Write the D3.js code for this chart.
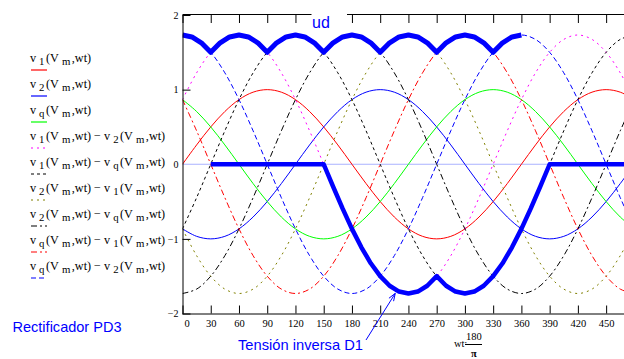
<!DOCTYPE html>
<html><head><meta charset="utf-8">
<script src="https://cdn.jsdelivr.net/npm/d3@7"></script>
<style>
html,body{margin:0;padding:0;background:#fff;}
svg{display:block;}
</style></head>
<body>
<svg id="chart" width="624" height="359"></svg>
<script>
// ---- data (angle in degrees, values in units of Vm) ----
const angles15 = [0,15,30,45,60,75,90,105,120,135,150,165,180,195,210,225,240,255,270,285,300,315,330,345,360,375,390,405,420,435,450,465,480];
const v1  = [0,.259,.5,.707,.866,.966,1,.966,.866,.707,.5,.259,0,-.259,-.5,-.707,-.866,-.966,-1,-.966,-.866,-.707,-.5,-.259,0,.259,.5,.707,.866,.966,1,.966,.866];
const v2  = [-.866,-.966,-1,-.966,-.866,-.707,-.5,-.259,0,.259,.5,.707,.866,.966,1,.966,.866,.707,.5,.259,0,-.259,-.5,-.707,-.866,-.966,-1,-.966,-.866,-.707,-.5,-.259,0];
const v3  = [.866,.707,.5,.259,0,-.259,-.5,-.707,-.866,-.966,-1,-.966,-.866,-.707,-.5,-.259,0,.259,.5,.707,.866,.966,1,.966,.866,.707,.5,.259,0,-.259,-.5,-.707,-.866];
const v12 = [.866,1.225,1.5,1.673,1.732,1.673,1.5,1.225,.866,.448,0,-.448,-.866,-1.225,-1.5,-1.673,-1.732,-1.673,-1.5,-1.225,-.866,-.448,0,.448,.866,1.225,1.5,1.673,1.732,1.673,1.5,1.225,.866];
const v13 = [-.866,-.448,0,.448,.866,1.225,1.5,1.673,1.732,1.673,1.5,1.225,.866,.448,0,-.448,-.866,-1.225,-1.5,-1.673,-1.732,-1.673,-1.5,-1.225,-.866,-.448,0,.448,.866,1.225,1.5,1.673,1.732];
const v21 = [-.866,-1.225,-1.5,-1.673,-1.732,-1.673,-1.5,-1.225,-.866,-.448,0,.448,.866,1.225,1.5,1.673,1.732,1.673,1.5,1.225,.866,.448,0,-.448,-.866,-1.225,-1.5,-1.673,-1.732,-1.673,-1.5,-1.225,-.866];
const v23 = [-1.732,-1.673,-1.5,-1.225,-.866,-.448,0,.448,.866,1.225,1.5,1.673,1.732,1.673,1.5,1.225,.866,.448,0,-.448,-.866,-1.225,-1.5,-1.673,-1.732,-1.673,-1.5,-1.225,-.866,-.448,0,.448,.866];
const v31 = [.866,.448,0,-.448,-.866,-1.225,-1.5,-1.673,-1.732,-1.673,-1.5,-1.225,-.866,-.448,0,.448,.866,1.225,1.5,1.673,1.732,1.673,1.5,1.225,.866,.448,0,-.448,-.866,-1.225,-1.5,-1.673,-1.732];
const v32 = [1.732,1.673,1.5,1.225,.866,.448,0,-.448,-.866,-1.225,-1.5,-1.673,-1.732,-1.673,-1.5,-1.225,-.866,-.448,0,.448,.866,1.225,1.5,1.673,1.732,1.673,1.5,1.225,.866,.448,0,-.448,-.866];

const anglesUd = [0,10,20,30,40,50,60,70,80,90,100,110,120,130,140,150,160,170,180,190,200,210,220,230,240,250,260,270,280,290,300,310,320,330,340,350,360];
const ud = [1.732,1.706,1.628,1.5,1.628,1.706,1.732,1.706,1.628,1.5,1.628,1.706,1.732,1.706,1.628,1.5,1.628,1.706,1.732,1.706,1.628,1.5,1.628,1.706,1.732,1.706,1.628,1.5,1.628,1.706,1.732,1.706,1.628,1.5,1.628,1.706,1.732];

const anglesD1 = [30,40,50,60,70,80,90,100,110,120,130,140,150,160,170,180,190,200,210,220,230,240,250,260,270,280,290,300,310,320,330,340,350,360,370,380,390,400,410,420,430,440,450,460,470,480];
const d1 = [0,0,0,0,0,0,0,0,0,0,0,0,0,-.301,-.592,-.866,-1.113,-1.327,-1.5,-1.628,-1.706,-1.732,-1.706,-1.628,-1.5,-1.628,-1.706,-1.732,-1.706,-1.628,-1.5,-1.327,-1.113,-.866,-.592,-.301,0,0,0,0,0,0,0,0,0,0];

const xTicks = [0,30,60,90,120,150,180,210,240,270,300,330,360,390,420,450];
const yTicks = [-2,-1,0,1,2];

const legendLabels = [
  "v_1(V_m,wt)",
  "v_2(V_m,wt)",
  "v_q(V_m,wt)",
  "v_1(V_m,wt) − v_2(V_m,wt)",
  "v_1(V_m,wt) − v_q(V_m,wt)",
  "v_2(V_m,wt) − v_1(V_m,wt)",
  "v_2(V_m,wt) − v_q(V_m,wt)",
  "v_q(V_m,wt) − v_1(V_m,wt)",
  "v_q(V_m,wt) − v_2(V_m,wt)"
];
const seriesValues = [v1,v2,v3,v12,v13,v21,v23,v31,v32];
const seriesColors = ["#ff0000","#0000ff","#00ff00","#ff00ff","#000000","#808000","#000000","#ff0000","#0000ff"];
const seriesDash = [null,null,null,"2,4","3,3","2,4","6,3,2,3","6,3,2,3","5,3"];

// ---- drawing ----
const svg = d3.select("#chart");
const X0 = 182.5, PX = 0.9414;
const x = d3.scaleLinear().domain([0,480]).range([X0, X0 + 480*PX]);
const y = d3.scaleLinear().domain([-2,2]).range([313.5,15]);
const right = 624;

svg.append("defs").append("clipPath").attr("id","clip")
  .append("rect").attr("x",X0).attr("y",0).attr("width",right-X0).attr("height",316);

const plot = svg.append("g").attr("clip-path","url(#clip)");

// zero line
plot.append("line").attr("x1",X0).attr("x2",right).attr("y1",y(0)).attr("y2",y(0))
  .attr("stroke","#aab2ff").attr("stroke-width",1);

const smooth = d3.line().x((d,i)=>x(angles15[i])).y(d=>y(d)).curve(d3.curveCatmullRom.alpha(0.5));
seriesValues.forEach((vals,k)=>{
  plot.append("path").attr("d",smooth(vals)).attr("fill","none")
    .attr("stroke",seriesColors[k]).attr("stroke-width",1)
    .attr("stroke-dasharray",seriesDash[k]);
});

const lin = (ang)=>d3.line().x((d,i)=>x(ang[i])).y(d=>y(d)).curve(d3.curveLinear);
plot.append("path").attr("d",lin(anglesUd)(ud)).attr("fill","none")
  .attr("stroke","#0000ff").attr("stroke-width",5).attr("stroke-linejoin","round");
plot.append("path").attr("d",lin(anglesD1)(d1)).attr("fill","none")
  .attr("stroke","#0000ff").attr("stroke-width",4.5).attr("stroke-linejoin","round");

// axes
const fontSerif = "'Liberation Serif','DejaVu Serif',serif";
const xAxB = d3.axisBottom(x).tickValues(xTicks).tickSizeInner(-8).tickSizeOuter(0).tickPadding(6);
const gB = svg.append("g").attr("transform",`translate(0,${y(-2)})`).call(xAxB);
gB.select(".domain").attr("d",`M${X0},0.5H${right}`);
gB.selectAll("text").attr("font-family",fontSerif).attr("font-size",10.5).attr("fill","#000")
  .attr("dx",d=>d===0?4:0);

const xAxT = d3.axisTop(x).tickValues(xTicks).tickSizeInner(-8).tickSizeOuter(0).tickFormat("");
const gT = svg.append("g").attr("transform",`translate(0,${y(2)})`).call(xAxT);
gT.select(".domain").attr("d",`M${X0},-0.5H${right}`);

const yAx = d3.axisLeft(y).tickValues(yTicks).tickSizeInner(-8).tickSizeOuter(0).tickPadding(4)
  .tickFormat(d=>d<0?"−"+(-d):String(d));
const gL = svg.append("g").attr("transform",`translate(${X0},0)`).call(yAx);
gL.selectAll("text").attr("font-family",fontSerif).attr("font-size",10).attr("fill","#000");
gL.selectAll(".tick").filter(d=>d===0).select("line").remove();

// "ud" label with white background over the top frame
svg.append("rect").attr("x",311.5).attr("y",0).attr("width",35.5).attr("height",30).attr("fill","#fff");
svg.append("text").attr("x",312).attr("y",28).attr("fill","#0000ff")
  .attr("font-family","'Liberation Sans',Arial,sans-serif").attr("font-size",16).text("ud");

// legend
const legend = svg.append("g");
legendLabels.forEach((lab,i)=>{
  const by = 62 + i*26;
  const t = legend.append("text").attr("x",30).attr("y",by)
    .attr("font-family",fontSerif).attr("font-size",12.2).attr("fill","#000");
  const parts = lab.split(/(_.)/).filter(s=>s.length);
  let lowered = false;
  parts.forEach(p=>{
    if(p[0]==="_"){
      t.append("tspan").attr("font-size",10.8).attr("dx",3).attr("dy",2.5).text(p[1]);
      lowered = true;
    } else {
      const ts = t.append("tspan").text(p);
      if(lowered){ ts.attr("dy",-2.5).attr("dx",1.5); lowered = false; }
    }
  });
  legend.append("line").attr("x1",31).attr("x2",47).attr("y1",by+8).attr("y2",by+8)
    .attr("stroke",seriesColors[i]).attr("stroke-width",1.2)
    .attr("stroke-dasharray",seriesDash[i]);
});

// annotations
svg.append("text").attr("x",12.5).attr("y",332).attr("fill","#0000ff")
  .attr("font-family","'Liberation Sans',Arial,sans-serif").attr("font-size",15)
  .attr("textLength",109).attr("lengthAdjust","spacingAndGlyphs").text("Rectificador PD3");
svg.append("text").attr("x",238).attr("y",350).attr("fill","#0000ff")
  .attr("font-family","'Liberation Sans',Arial,sans-serif").attr("font-size",15)
  .attr("textLength",125).attr("lengthAdjust","spacingAndGlyphs").text("Tensión inversa D1");

// arrow
const tipX = x(226), tipY = y(-1.73);
const sx = 366, sy = 340;
const ang = Math.atan2(tipY-sy, tipX-sx);
const hl = 8, ha = 0.35;
svg.append("path")
  .attr("d",`M${sx},${sy}L${tipX},${tipY}M${tipX-hl*Math.cos(ang-ha)},${tipY-hl*Math.sin(ang-ha)}L${tipX},${tipY}L${tipX-hl*Math.cos(ang+ha)},${tipY-hl*Math.sin(ang+ha)}`)
  .attr("fill","none").attr("stroke","#0000ff").attr("stroke-width",1);

// x-axis title: wt·180/π
const xt = svg.append("g").attr("font-family",fontSerif).attr("font-size",10.5).attr("fill","#000");
xt.append("text").attr("x",454).attr("y",347).text("wt");
xt.append("text").attr("x",464).attr("y",346).text("·");
xt.append("text").attr("x",466).attr("y",340).text("180");
xt.append("line").attr("x1",465).attr("x2",482).attr("y1",344.5).attr("y2",344.5).attr("stroke","#000");
xt.append("text").attr("x",471).attr("y",357).attr("font-weight","bold").text("π");
</script>
</body></html>
